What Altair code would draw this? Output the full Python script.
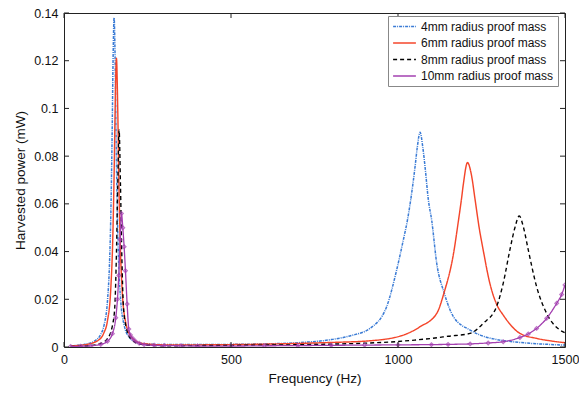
import altair as alt
import pandas as pd

W, H = 501, 334

series_names = ["4mm radius proof mass", "6mm radius proof mass",
                "8mm radius proof mass", "10mm radius proof mass"]
colors = ["#3a7bd5", "#f4452a", "#000000", "#a33fb0"]

blue_f = [20, 60, 90, 110, 120, 130, 136, 140, 144, 147, 150, 153, 156, 160, 164, 170, 180, 195, 220, 260,
          300, 400, 500, 600, 700, 800, 860, 916, 966, 996, 1016, 1028, 1038, 1051, 1058, 1066, 1074,
          1081, 1091, 1101, 1116, 1138, 1166, 1216, 1246, 1286, 1350, 1400, 1450, 1500]
blue_p = [0.0005, 0.0011, 0.0024, 0.0053, 0.0092, 0.019, 0.034, 0.054, 0.088, 0.121, 0.138, 0.121, 0.088,
          0.054, 0.034, 0.019, 0.0092, 0.0042, 0.0018, 0.0012,
          0.001, 0.001, 0.0011, 0.0013, 0.0018, 0.0031, 0.0048, 0.0078, 0.0169, 0.0323, 0.0449, 0.053,
          0.0616, 0.0755, 0.084, 0.090, 0.084,
          0.0755, 0.0616, 0.053, 0.035, 0.0228, 0.0127, 0.0071, 0.005, 0.0034, 0.0021, 0.0015, 0.0011,
          0.0008]

red_f = [20, 60, 100, 120, 130, 140, 146, 150, 153, 157, 161, 164, 168, 174, 184, 200, 230, 300, 400, 500,
         600, 700, 800, 916, 1016, 1066, 1116, 1138, 1166, 1181, 1190, 1196, 1208, 1220, 1231, 1243, 1255,
         1275, 1295, 1315, 1365, 1415, 1460, 1500]
red_p = [0.0005, 0.0009, 0.0026, 0.0061, 0.0109, 0.0242, 0.0453, 0.072, 0.099, 0.121, 0.099, 0.072,
         0.0453, 0.0242, 0.0109, 0.0046, 0.0016, 0.0009, 0.0009, 0.001,
         0.0012, 0.0015, 0.0019, 0.0026, 0.005, 0.0085, 0.0141, 0.0228, 0.039, 0.053, 0.062, 0.0686, 0.0773,
         0.072, 0.0616, 0.050, 0.0407,
         0.0267, 0.018, 0.0134, 0.0057, 0.0036, 0.0025, 0.0018]

black_f = [20, 80, 110, 130, 145, 152, 157, 161, 165, 169, 173, 178, 185, 200, 230, 300, 400, 600, 800,
           900, 1000, 1050, 1100, 1150, 1216, 1255, 1295, 1315, 1335, 1350, 1363, 1376, 1390, 1415, 1445,
           1485, 1500]
black_p = [0.0002, 0.0006, 0.0015, 0.0035, 0.009, 0.0167, 0.0393, 0.0685, 0.091, 0.0685, 0.0393, 0.0167,
           0.009, 0.0035, 0.0011, 0.0005, 0.0006, 0.0008, 0.0012,
           0.0016, 0.0023, 0.0029, 0.0036, 0.0045, 0.0057, 0.0099, 0.0169, 0.0267, 0.0407, 0.050, 0.0549,
           0.050, 0.0407, 0.0253, 0.0141,
           0.0071, 0.006]

purple_f = [20, 50, 80, 110, 130, 145, 155, 160, 164, 168, 172, 176, 180, 184, 189, 194, 199, 206, 214,
            225, 240, 270, 300, 350, 400, 500, 600, 700, 800, 900, 1000, 1100, 1150, 1216, 1270, 1315, 1365,
            1390, 1415, 1445, 1475, 1490, 1500]
purple_p = [0.0002, 0.0003, 0.0005, 0.0011, 0.0024, 0.0056, 0.0123, 0.020, 0.030, 0.045, 0.056, 0.050,
            0.042, 0.032, 0.018, 0.0075, 0.005, 0.0036, 0.0024,
            0.0016, 0.001, 0.0007, 0.0006, 0.0005, 0.0004, 0.0004, 0.0005, 0.0006, 0.0007, 0.0008, 0.0009,
            0.001, 0.0011, 0.0013, 0.0017, 0.0022, 0.004,
            0.0055, 0.0078, 0.012, 0.0183, 0.022, 0.026]

x_ticks = [0, 500, 1000, 1500]
y_ticks = [0, 0.02, 0.04, 0.06, 0.08, 0.1, 0.12, 0.14]

rows = []
for name, fs, ps in zip(series_names, [blue_f, red_f, black_f, purple_f], [blue_p, red_p, black_p, purple_p]):
    for f, p in zip(fs, ps):
        rows.append({"series": name, "f": f, "p": p})
df = pd.DataFrame(rows)

FONT = "Liberation Sans"

xscale = alt.Scale(domain=[0, 1500], nice=False, zero=False)
yscale = alt.Scale(domain=[0, 0.14], nice=False)

x_enc = alt.X("f:Q", scale=xscale,
              axis=alt.Axis(values=x_ticks, format="d", title="Frequency (Hz)", ticks=False, domain=False,
                            grid=False, labelPadding=6, labelFontSize=12.5, titleFontSize=13.5, titlePadding=6,
                            labelColor="#111", titleColor="#111", labelFont=FONT, titleFont=FONT,
                            titleFontWeight="normal", labelFlush=False))
y_enc = alt.Y("p:Q", scale=yscale,
              axis=alt.Axis(values=y_ticks, format="~g", title="Harvested power (mW)", ticks=False,
                            domain=False, grid=False, labelPadding=6, labelFontSize=12.5, titleFontSize=13.5,
                            titlePadding=6, labelColor="#111", titleColor="#111", labelFont=FONT,
                            titleFont=FONT, titleFontWeight="normal", labelFlush=False))

color_enc = alt.Color("series:N", scale=alt.Scale(domain=series_names, range=colors),
                      legend=alt.Legend(title=None, orient="none", legendX=324, legendY=3,
                                        symbolType="M-2,0H2", symbolSize=130, symbolOffset=6,
                                        labelOffset=10, labelFontSize=12, labelFont=FONT, labelColor="#111",
                                        rowPadding=3.5, padding=4, strokeColor="#888", fillColor="white",
                                        symbolStrokeWidth=1.5, labelLimit=300))
dash_enc = alt.StrokeDash("series:N", scale=alt.Scale(domain=series_names,
                                                      range=[[3, 1, 1, 1], [1, 0], [4, 3], [1, 0]]),
                          legend=None)
width_enc = alt.StrokeWidth("series:N", scale=alt.Scale(domain=series_names, range=[1.5, 1.3, 1.8, 3.2]),
                            legend=None)

base = alt.Chart(df).mark_line(clip=True, interpolate="monotone").encode(
    x=x_enc, y=y_enc, color=color_enc, strokeDash=dash_enc, strokeWidth=width_enc,
    order="f:Q"
)

layers = [base.transform_filter(alt.datum.series == s) for s in series_names]

points = alt.Chart(df).transform_filter(alt.datum.series == series_names[3]).mark_point(
    shape="diamond", size=14, filled=False, strokeWidth=1.2, color=colors[3], clip=True
).encode(x=alt.X("f:Q", scale=xscale), y=alt.Y("p:Q", scale=yscale))

xt_df = pd.DataFrame({"t": x_ticks})
yt_df = pd.DataFrame({"t": y_ticks})
tk = 5
bottom = alt.Chart(xt_df).mark_rule(color="#222", strokeWidth=1).encode(
    x=alt.X("t:Q", scale=xscale), y=alt.value(H), y2=alt.value(H - tk))
top = alt.Chart(xt_df).mark_rule(color="#222", strokeWidth=1).encode(
    x=alt.X("t:Q", scale=xscale), y=alt.value(0), y2=alt.value(tk))
left = alt.Chart(yt_df).mark_rule(color="#222", strokeWidth=1).encode(
    y=alt.Y("t:Q", scale=yscale), x=alt.value(0), x2=alt.value(tk))
right = alt.Chart(yt_df).mark_rule(color="#222", strokeWidth=1).encode(
    y=alt.Y("t:Q", scale=yscale), x=alt.value(W), x2=alt.value(W - tk))

chart = alt.layer(*layers, points, bottom, top, left, right).properties(
    width=W, height=H,
    autosize=alt.AutoSizeParams(type="none"),
    padding={"left": 64, "top": 13, "right": 14, "bottom": 48},
    background="white",
).configure_view(stroke="#222", strokeWidth=1)

chart.save("out.html", embed_options={"renderer": "svg", "actions": False})
